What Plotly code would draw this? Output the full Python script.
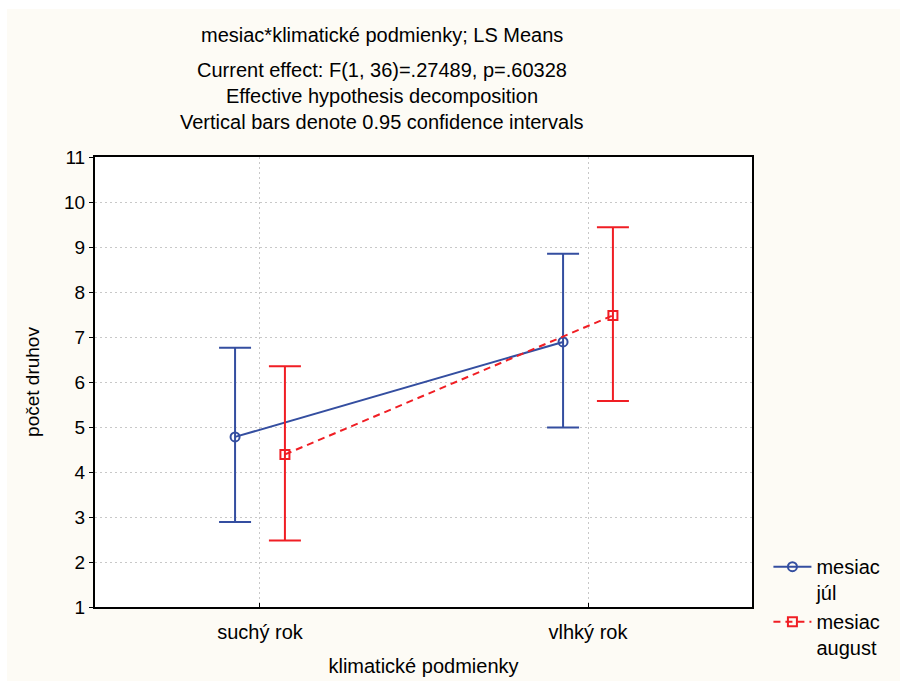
import plotly.graph_objects as go

# Categories of the factor "klimatické podmienky"
categories = ["suchý rok", "vlhký rok"]

# LS means and 0.95 confidence limits for each month
jul_mean = [4.78, 6.89]
jul_low = [2.89, 4.99]
jul_high = [6.76, 8.85]

aug_mean = [4.39, 7.48]
aug_low = [2.48, 5.58]
aug_high = [6.35, 9.44]

y_ticks = [1, 2, 3, 4, 5, 6, 7, 8, 9, 10, 11]

title_lines = [
    "mesiac*klimatické podmienky; LS Means",
    "Current effect: F(1, 36)=.27489, p=.60328",
    "Effective hypothesis decomposition",
    "Vertical bars denote 0.95 confidence intervals",
]

BLUE = "rgb(52,78,160)"
RED = "rgb(240,30,36)"
BG = "rgb(253,251,245)"
GRID = "rgb(200,200,200)"
FONT = "Liberation Sans, Arial, sans-serif"

offset = 0.076
base = list(range(len(categories)))
x_jul = [b - offset for b in base]
x_aug = [b + offset for b in base]

fig = go.Figure()

fig.add_trace(go.Scatter(
    x=x_jul, y=jul_mean, mode="lines+markers",
    name="mesiac<br>júl",
    line=dict(color=BLUE, width=2),
    marker=dict(symbol="circle-open", size=9, color=BLUE, line=dict(width=2)),
    error_y=dict(type="data", symmetric=False,
                 array=[h - m for h, m in zip(jul_high, jul_mean)],
                 arrayminus=[m - l for m, l in zip(jul_mean, jul_low)],
                 color=BLUE, thickness=2, width=16),
))

fig.add_trace(go.Scatter(
    x=x_aug, y=aug_mean, mode="lines+markers",
    name="mesiac<br>august",
    line=dict(color=RED, width=2, dash="7px,5px"),
    marker=dict(symbol="square-open", size=9, color=RED, line=dict(width=2)),
    error_y=dict(type="data", symmetric=False,
                 array=[h - m for h, m in zip(aug_high, aug_mean)],
                 arrayminus=[m - l for m, l in zip(aug_mean, aug_low)],
                 color=RED, thickness=2, width=16),
))

# page geometry in pixels
W, H = 900, 681
ml, mr, mt, mb = 95, 148, 157, 74
pw, ph = W - ml - mr, H - mt - mb


def px_x(x):
    return (x - ml) / pw


def px_y(y):
    return (H - y - mb) / ph


title_y = [35, 70, 96, 122]
annotations = []
for txt, yy in zip(title_lines, title_y):
    annotations.append(dict(
        text=txt, x=px_x(382), y=px_y(yy), xref="paper", yref="paper",
        showarrow=False, font=dict(size=20, color="black", family=FONT),
        xanchor="center", yanchor="middle",
    ))

# thin white strips along the top and left edges of the page
shapes = [
    dict(type="rect", xref="paper", yref="paper", layer="below",
         x0=px_x(0), x1=px_x(W), y0=px_y(9), y1=px_y(0),
         fillcolor="white", line=dict(width=0)),
    dict(type="rect", xref="paper", yref="paper", layer="below",
         x0=px_x(0), x1=px_x(7), y0=px_y(H), y1=px_y(0),
         fillcolor="white", line=dict(width=0)),
]

fig.update_layout(
    width=W, height=H,
    margin=dict(l=ml, r=mr, t=mt, b=mb, autoexpand=False),
    paper_bgcolor=BG, plot_bgcolor="white",
    font=dict(family=FONT, size=20, color="black"),
    showlegend=True,
    legend=dict(x=1.025, y=0.133, xanchor="left", yanchor="top",
                bgcolor="rgba(0,0,0,0)", font=dict(size=20),
                itemwidth=38, valign="top", tracegroupgap=0),
    annotations=annotations,
    shapes=shapes,
    xaxis=dict(
        range=[-0.503, 1.5], tickvals=base, ticktext=categories,
        showgrid=True, gridcolor=GRID, griddash="2px,3px", gridwidth=1,
        zeroline=False, showline=True, linecolor="black", linewidth=2, mirror=True,
        ticks="inside", ticklen=4, tickcolor="black",
        ticklabelstandoff=6, automargin=False,
        title=dict(text="klimatické podmienky", standoff=17, font=dict(size=20)),
        tickfont=dict(size=20),
    ),
    yaxis=dict(
        range=[1, 11], tickvals=y_ticks,
        showgrid=True, gridcolor=GRID, griddash="2px,3px", gridwidth=1,
        zeroline=False, showline=True, linecolor="black", linewidth=2, mirror=True,
        ticks="outside", ticklen=4, tickcolor="black", automargin=False,
        title=dict(text="počet druhov", standoff=19, font=dict(size=19)),
        tickfont=dict(size=19),
    ),
)

fig.write_html("out.html")
